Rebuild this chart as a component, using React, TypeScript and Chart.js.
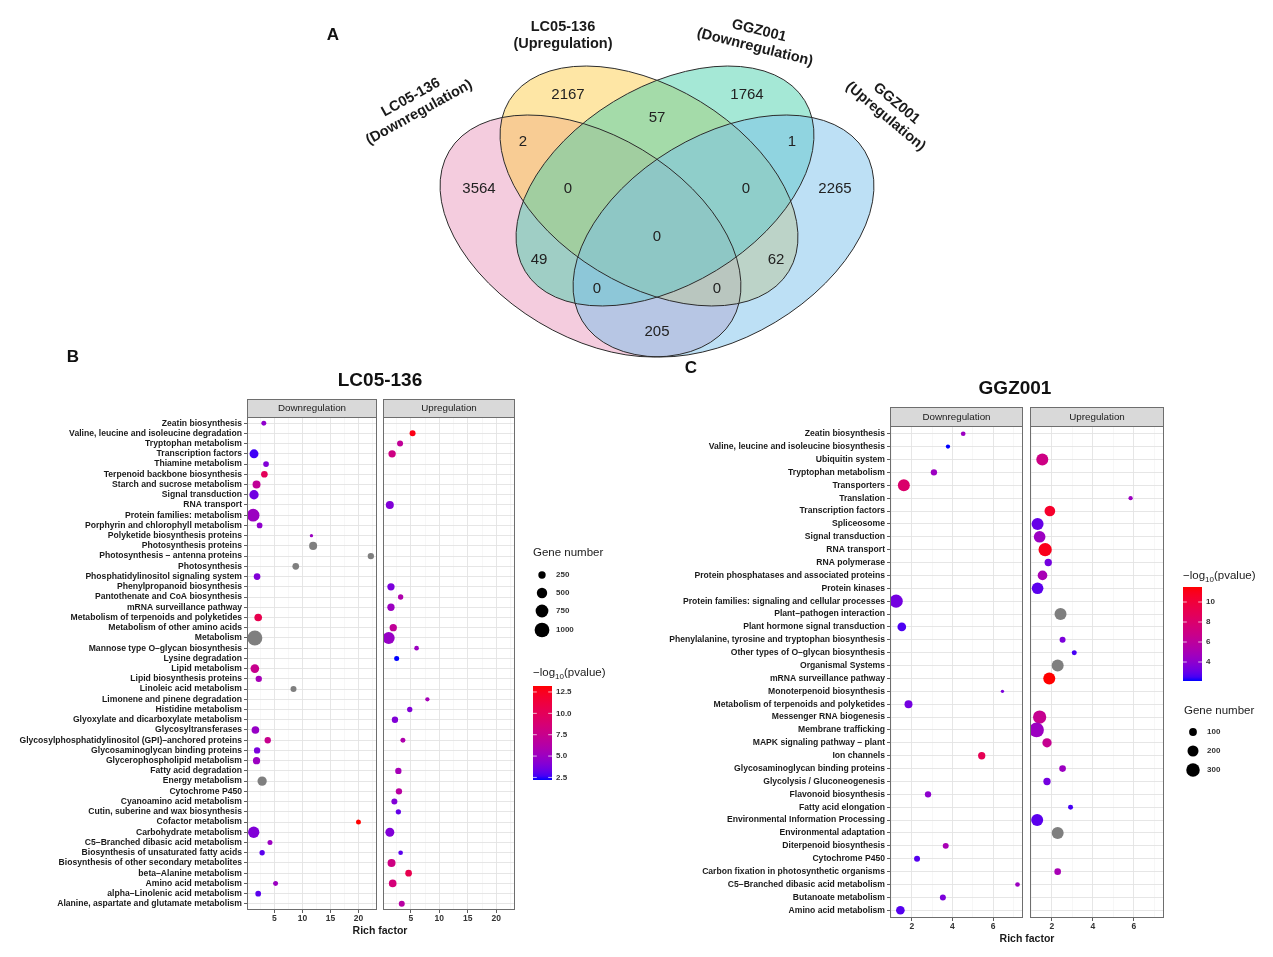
import React, { useEffect, useRef } from 'react';
import { Chart, registerables } from 'chart.js';
Chart.register(...registerables);

const FONT = '"Liberation Sans", Arial, Helvetica, sans-serif';

// ---------------- Panel A (Venn) data ----------------
const VENN_SET_NAMES = [
  ['LC05-136', '(Downregulation)'],
  ['LC05-136', '(Upregulation)'],
  ['GGZ001', '(Downregulation)'],
  ['GGZ001', '(Upregulation)'],
];
const VENN_COUNTS = [3564, 2167, 1764, 2265, 2, 57, 1, 0, 0, 0, 49, 62, 0, 0, 205];

// ---------------- Panel B (LC05-136) data ----------------
const B_CATEGORIES = [
  'Zeatin biosynthesis', 'Valine, leucine and isoleucine degradation', 'Tryptophan metabolism', 'Transcription factors',
  'Thiamine metabolism', 'Terpenoid backbone biosynthesis', 'Starch and sucrose metabolism', 'Signal transduction',
  'RNA transport', 'Protein families: metabolism', 'Porphyrin and chlorophyll metabolism', 'Polyketide biosynthesis proteins',
  'Photosynthesis proteins', 'Photosynthesis – antenna proteins', 'Photosynthesis', 'Phosphatidylinositol signaling system',
  'Phenylpropanoid biosynthesis', 'Pantothenate and CoA biosynthesis', 'mRNA surveillance pathway', 'Metabolism of terpenoids and polyketides',
  'Metabolism of other amino acids', 'Metabolism', 'Mannose type O–glycan biosynthesis', 'Lysine degradation',
  'Lipid metabolism', 'Lipid biosynthesis proteins', 'Linoleic acid metabolism', 'Limonene and pinene degradation',
  'Histidine metabolism', 'Glyoxylate and dicarboxylate metabolism', 'Glycosyltransferases', 'Glycosylphosphatidylinositol (GPI)–anchored proteins',
  'Glycosaminoglycan binding proteins', 'Glycerophospholipid metabolism', 'Fatty acid degradation', 'Energy metabolism',
  'Cytochrome P450', 'Cyanoamino acid metabolism', 'Cutin, suberine and wax biosynthesis', 'Cofactor metabolism',
  'Carbohydrate metabolism', 'C5–Branched dibasic acid metabolism', 'Biosynthesis of unsaturated fatty acids', 'Biosynthesis of other secondary metabolites',
  'beta–Alanine metabolism', 'Amino acid metabolism', 'alpha–Linolenic acid metabolism', 'Alanine, aspartate and glutamate metabolism',
];
const B_DOWN_RICH = [
  3.1, null, null, 1.35, 3.5, 3.2, 1.8, 1.35,
  null, 1.2, 2.35, 11.6, 11.9, 22.2, 8.8, 1.9,
  null, null, null, 2.1, null, 1.5, null, null,
  1.5, 2.2, 8.4, null, null, null, 1.6, 3.8,
  1.9, 1.8, null, 2.8, null, null, null, 20.0,
  1.3, 4.2, 2.8, null, null, 5.2, 2.1, null,
];
const B_DOWN_GENES = [
  115, null, null, 370, 150, 205, 295, 400,
  null, 740, 150, 50, 295, 185, 205, 205,
  null, null, null, 270, null, 1035, null, null,
  345, 185, 165, null, null, null, 270, 185,
  185, 245, null, 400, null, null, null, 115,
  590, 115, 130, null, null, 115, 150, null,
];
const B_DOWN_LOGP = [
  4.5, null, null, 2.6, 4.0, 10.0, 7.0, 3.5,
  null, 5.0, 4.5, 5.0, null, null, null, 4.0,
  null, null, null, 10.5, null, null, null, null,
  7.5, 5.5, null, null, null, null, 4.8, 7.5,
  3.8, 5.0, null, null, null, null, null, 13.2,
  4.0, 5.0, 3.0, null, null, 5.0, 3.0, null,
];
const B_UP_RICH = [
  null, 5.3, 3.1, 1.7, null, null, null, null,
  1.3, null, null, null, null, null, null, null,
  1.5, 3.2, 1.5, null, 1.9, 1.1, 6.0, 2.5,
  null, null, null, 7.9, 4.8, 2.2, null, 3.6,
  null, null, 2.8, null, 2.9, 2.1, 2.8, null,
  1.3, null, 3.2, 1.6, 4.6, 1.8, null, 3.4,
];
const B_UP_GENES = [
  null, 165, 165, 250, null, null, null, null,
  295, null, null, null, null, null, null, null,
  245, 130, 245, null, 245, 660, 100, 115,
  null, null, null, 85, 130, 185, null, 115,
  null, null, 185, null, 185, 165, 130, null,
  370, null, 100, 295, 205, 270, null, 165,
];
const B_UP_LOGP = [
  null, 12.8, 7.0, 8.0, null, null, null, null,
  4.0, null, null, null, null, null, null, null,
  3.8, 6.0, 5.0, null, 7.0, 4.8, 5.0, 2.2,
  null, null, null, 5.5, 4.0, 4.0, null, 6.0,
  null, null, 5.5, null, 6.5, 4.0, 3.2, null,
  4.0, null, 3.0, 8.0, 10.5, 8.5, null, 6.5,
];
const B_X_TICKS = [5, 10, 15, 20];
const B_SIZE_BREAKS = [250, 500, 750, 1000];
const B_COLOR_BREAKS = [2.5, 5.0, 7.5, 10.0, 12.5];

// ---------------- Panel C (GGZ001) data ----------------
const C_CATEGORIES = [
  'Zeatin biosynthesis', 'Valine, leucine and isoleucine biosynthesis', 'Ubiquitin system', 'Tryptophan metabolism',
  'Transporters', 'Translation', 'Transcription factors', 'Spliceosome',
  'Signal transduction', 'RNA transport', 'RNA polymerase', 'Protein phosphatases and associated proteins',
  'Protein kinases', 'Protein families: signaling and cellular processes', 'Plant–pathogen interaction', 'Plant hormone signal transduction',
  'Phenylalanine, tyrosine and tryptophan biosynthesis', 'Other types of O–glycan biosynthesis', 'Organismal Systems', 'mRNA surveillance pathway',
  'Monoterpenoid biosynthesis', 'Metabolism of terpenoids and polyketides', 'Messenger RNA biogenesis', 'Membrane trafficking',
  'MAPK signaling pathway – plant', 'Ion channels', 'Glycosaminoglycan binding proteins', 'Glycolysis / Gluconeogenesis',
  'Flavonoid biosynthesis', 'Fatty acid elongation', 'Environmental Information Processing', 'Environmental adaptation',
  'Diterpenoid biosynthesis', 'Cytochrome P450', 'Carbon fixation in photosynthetic organisms', 'C5–Branched dibasic acid metabolism',
  'Butanoate metabolism', 'Amino acid metabolism',
];
const C_DOWN_RICH = [
  4.53, 3.78, null, 3.09, 1.61, null, null, null,
  null, null, null, null, null, 1.23, null, 1.51,
  null, null, null, null, 6.46, 1.84, null, null,
  null, 5.44, null, null, 2.8, null, null, null,
  3.67, 2.26, null, 7.2, 3.53, 1.44,
];
const C_DOWN_GENES = [
  36, 30, null, 66, 237, null, null, null,
  null, null, null, null, null, 292, null, 124,
  null, null, null, null, 18, 105, null, null,
  null, 88, null, null, 66, null, null, null,
  59, 59, null, 36, 59, 124,
];
const C_DOWN_LOGP = [
  4.5, 2.1, null, 4.5, 8.0, null, null, null,
  null, null, null, null, null, 3.3, null, 2.6,
  null, null, null, null, 3.5, 3.3, null, null,
  null, 9.0, null, null, 4.0, null, null, null,
  5.0, 2.7, null, 4.5, 3.5, 2.7,
];
const C_UP_RICH = [
  null, null, 1.53, null, null, 5.84, 1.9, 1.3,
  1.4, 1.67, 1.82, 1.54, 1.3, null, 2.42, null,
  2.52, 3.09, 2.28, 1.87, null, null, 1.4, 1.25,
  1.76, null, 2.52, 1.76, null, 2.91, 1.28, 2.28,
  null, null, 2.28, null, null, null,
];
const C_UP_GENES = [
  null, null, 237, null, null, 30, 188, 237,
  224, 292, 88, 154, 224, null, 237, null,
  59, 41, 237, 237, null, null, 292, 355,
  142, null, 73, 88, null, 41, 237, 237,
  null, null, 73, null, null, null,
];
const C_UP_LOGP = [
  null, null, 7.0, null, null, 4.5, 10.5, 3.0,
  4.5, 11.0, 3.3, 5.0, 2.8, null, null, null,
  3.5, 2.5, null, 11.5, null, null, 6.5, 4.5,
  6.5, null, 4.5, 3.3, null, 2.5, 2.8, null,
  null, null, 5.0, null, null, null,
];
const C_X_TICKS = [2, 4, 6];
const C_SIZE_BREAKS = [100, 200, 300];
const C_COLOR_BREAKS = [4, 6, 8, 10];

// ---------------- Layout / style (not data) ----------------
const VENN_SHAPES = [
  { cx: 590.5, cy: 236, a: 164.8, b: 100.6, rot: 31, fill: '#E999BD' },
  { cx: 649, cy: 186, a: 163.8, b: 98.8, rot: 31.4, fill: '#FDCD4B' },
  { cx: 665, cy: 186, a: 163.8, b: 98.8, rot: -31.4, fill: '#4BD1AD' },
  { cx: 723.5, cy: 236, a: 164.8, b: 100.6, rot: -31, fill: '#7BC1EB' },
];
const VENN_COUNT_POS = [
  [479, 189], [568, 95], [747, 95], [835, 189], [523, 142], [657, 118], [792, 142],
  [568, 189], [746, 189], [657, 237], [539, 260], [776, 260], [597, 289], [717, 289], [657, 332],
];
const VENN_SET_POS = [
  { x: 415, y: 105, rot: -29 },
  { x: 563, y: 35, rot: 0 },
  { x: 757, y: 39, rot: 14 },
  { x: 891, y: 110, rot: 40 },
];

// ---------------- colour helpers (ggplot Lab gradient blue -> red) ----------------
function toLin(c: number) { c /= 255; return c <= 0.04045 ? c / 12.92 : Math.pow((c + 0.055) / 1.055, 2.4); }
function fromLin(c: number) {
  const v = c <= 0.0031308 ? 12.92 * c : 1.055 * Math.pow(Math.max(c, 0), 1 / 2.4) - 0.055;
  return Math.round(Math.max(0, Math.min(1, v)) * 255);
}
function rgb2lab(rgb: number[]) {
  const R = toLin(rgb[0]), G = toLin(rgb[1]), B = toLin(rgb[2]);
  const X = (0.4124 * R + 0.3576 * G + 0.1805 * B) / 0.95047;
  const Y = 0.2126 * R + 0.7152 * G + 0.0722 * B;
  const Z = (0.0193 * R + 0.1192 * G + 0.9505 * B) / 1.08883;
  const f = (t: number) => (t > 0.008856 ? Math.cbrt(t) : 7.787 * t + 16 / 116);
  const fx = f(X), fy = f(Y), fz = f(Z);
  return [116 * fy - 16, 500 * (fx - fy), 200 * (fy - fz)];
}
function lab2rgb(lab: number[]) {
  const fy = (lab[0] + 16) / 116, fx = fy + lab[1] / 500, fz = fy - lab[2] / 200;
  const inv = (t: number) => (t * t * t > 0.008856 ? t * t * t : (t - 16 / 116) / 7.787);
  const X = inv(fx) * 0.95047, Y = inv(fy), Z = inv(fz) * 1.08883;
  const R = 3.2406 * X - 1.5372 * Y - 0.4986 * Z;
  const G = -0.9689 * X + 1.8758 * Y + 0.0415 * Z;
  const B = 0.0557 * X - 0.204 * Y + 1.057 * Z;
  return [fromLin(R), fromLin(G), fromLin(B)];
}
const LAB_LO = rgb2lab([0, 0, 255]);
const LAB_HI = rgb2lab([255, 0, 0]);
function gradColor(t: number) {
  t = Math.max(0, Math.min(1, t));
  const c = lab2rgb([0, 1, 2].map((i) => LAB_LO[i] + (LAB_HI[i] - LAB_LO[i]) * t));
  return `rgb(${c[0]},${c[1]},${c[2]})`;
}
const NA_COLOR = '#7F7F7F';

function range(arrs: (number | null)[][]) {
  const v = arrs.flat().filter((x) => x != null) as number[];
  return [Math.min(...v), Math.max(...v)];
}

// ---------------- drawing helpers ----------------
function drawColorbar(ctx: CanvasRenderingContext2D, x: number, y: number, w: number, h: number, lo: number, hi: number, breaks: number[], digits: number) {
  const g = ctx.createLinearGradient(0, y + h, 0, y);
  for (let i = 0; i <= 24; i++) g.addColorStop(i / 24, gradColor(i / 24));
  ctx.fillStyle = g;
  ctx.fillRect(x, y, w, h);
  ctx.strokeStyle = 'rgba(255,255,255,0.9)';
  ctx.lineWidth = 0.8;
  ctx.font = `bold 8px ${FONT}`;
  ctx.fillStyle = '#333';
  ctx.textAlign = 'left';
  ctx.textBaseline = 'middle';
  breaks.forEach((v) => {
    const yy = y + h - ((v - lo) / (hi - lo)) * h;
    ctx.beginPath();
    ctx.moveTo(x, yy); ctx.lineTo(x + w / 5, yy);
    ctx.moveTo(x + w, yy); ctx.lineTo(x + w - w / 5, yy);
    ctx.stroke();
    ctx.fillText(v.toFixed(digits), x + w + 4, yy);
  });
}
function drawLogTitle(ctx: CanvasRenderingContext2D, x: number, y: number) {
  ctx.fillStyle = '#1A1A1A';
  ctx.textAlign = 'left';
  ctx.textBaseline = 'alphabetic';
  ctx.font = `11.5px ${FONT}`;
  let cx = x;
  ctx.fillText('−log', cx, y + 4); cx += ctx.measureText('−log').width;
  ctx.font = `8px ${FONT}`;
  ctx.fillText('10', cx, y + 7); cx += ctx.measureText('10').width;
  ctx.font = `11.5px ${FONT}`;
  ctx.fillText('(pvalue)', cx, y + 4);
}
function drawSizeLegend(ctx: CanvasRenderingContext2D, x: number, titleY: number, ys: number[], breaks: number[], rK: number, labelX: number) {
  ctx.fillStyle = '#1A1A1A';
  ctx.font = `11.5px ${FONT}`;
  ctx.textAlign = 'left';
  ctx.textBaseline = 'middle';
  ctx.fillText('Gene number', x - 9, titleY);
  breaks.forEach((b, i) => {
    ctx.fillStyle = '#000';
    ctx.beginPath();
    ctx.arc(x, ys[i], rK * Math.sqrt(b), 0, Math.PI * 2);
    ctx.fill();
    ctx.fillStyle = '#333';
    ctx.font = `bold 8px ${FONT}`;
    ctx.fillText(String(b), labelX, ys[i]);
  });
}
function txt(ctx: CanvasRenderingContext2D, s: string, x: number, y: number, font: string, color = '#1A1A1A', align: CanvasTextAlign = 'center') {
  ctx.font = font;
  ctx.fillStyle = color;
  ctx.textAlign = align;
  ctx.textBaseline = 'middle';
  ctx.fillText(s, x, y);
}

// ---------------- facet chart ----------------
type Facet = {
  cats: string[]; rich: (number | null)[]; genes: (number | null)[]; logp: (number | null)[];
  lo: number; hi: number; xMin: number; xMax: number; majors: number[];
  showY: boolean; yWidth: number; padding: { left: number; right: number; top: number; bottom: number };
  strip: string; stripH: number; rK: number; ox: number; oy: number;
  decorate?: (ctx: CanvasRenderingContext2D) => void;
};

function makeFacet(canvas: HTMLCanvasElement, f: Facet) {
  const n = f.cats.length;
  const step = f.majors[1] - f.majors[0];
  const allTicks: number[] = [];
  for (let v = f.majors[0] - step / 2; v <= f.xMax; v += step / 2) if (v >= f.xMin) allTicks.push(+v.toFixed(4));
  const isMajor = (v: number) => f.majors.some((m) => Math.abs(m - v) < 1e-6);
  const pts: any[] = [];
  const cols: string[] = [];
  f.cats.forEach((_, i) => {
    const x = f.rich[i];
    if (x == null) return;
    pts.push({ x, y: i, r: f.rK * Math.sqrt(f.genes[i] as number) });
    const lp = f.logp[i];
    cols.push(lp == null ? NA_COLOR : gradColor((lp - f.lo) / (f.hi - f.lo)));
  });
  const plugin = {
    id: 'facetDecor',
    afterDraw(chart: any) {
      const { ctx, chartArea: a } = chart;
      ctx.save();
      ctx.strokeStyle = '#6E6E6E';
      ctx.lineWidth = 1;
      ctx.strokeRect(a.left + 0.5, a.top + 0.5, a.right - a.left - 1, a.bottom - a.top - 1);
      ctx.fillStyle = '#D9D9D9';
      ctx.fillRect(a.left, a.top - f.stripH, a.right - a.left, f.stripH);
      ctx.strokeRect(a.left + 0.5, a.top - f.stripH + 0.5, a.right - a.left - 1, f.stripH);
      txt(ctx, f.strip, (a.left + a.right) / 2, a.top - f.stripH / 2 + 0.5, `9.8px ${FONT}`, '#1A1A1A');
      ctx.translate(-f.ox, -f.oy);
      if (f.decorate) f.decorate(ctx);
      ctx.restore();
    },
  };
  return new Chart(canvas, {
    type: 'bubble',
    data: { datasets: [{ data: pts, backgroundColor: cols, borderWidth: 0, hoverBorderWidth: 0 } as any] },
    options: {
      animation: false,
      responsive: false,
      events: [],
      layout: { padding: f.padding },
      plugins: { legend: { display: false }, tooltip: { enabled: false } },
      scales: {
        x: {
          type: 'linear', position: 'bottom', min: f.xMin, max: f.xMax,
          afterBuildTicks: (s: any) => { s.ticks = allTicks.map((v) => ({ value: v })); },
          afterFit: (s: any) => { s.height = 30; },
          ticks: {
            autoSkip: false, maxRotation: 0, padding: 1, color: '#333',
            font: { family: FONT, size: 8.5, weight: 'bold' },
            callback: (v: any) => (isMajor(v) ? String(v) : ''),
          },
          grid: {
            color: (c: any) => (isMajor(c.tick?.value) ? '#E3E3E3' : '#F2F2F2'),
            lineWidth: (c: any) => (isMajor(c.tick?.value) ? 0.9 : 0.6),
            drawTicks: true, tickLength: 3,
            tickColor: (c: any) => (isMajor(c.tick?.value) ? '#333' : 'rgba(0,0,0,0)'),
            tickWidth: 0.8,
          },
          border: { display: false },
        },
        y: {
          type: 'linear', reverse: true, min: -0.6, max: n - 0.4,
          afterBuildTicks: (s: any) => { s.ticks = f.cats.map((_, i) => ({ value: i })); },
          afterFit: (s: any) => { s.width = f.yWidth; },
          ticks: {
            display: f.showY, autoSkip: false, padding: 2, color: '#1A1A1A',
            font: { family: FONT, size: 8.6, weight: 'bold' },
            callback: (v: any) => f.cats[v] ?? '',
          },
          grid: { color: '#E3E3E3', lineWidth: 0.9, drawTicks: f.showY, tickLength: 3, tickColor: '#333', tickWidth: 0.8 },
          border: { display: false },
        },
      },
    } as any,
    plugins: [plugin],
  });
}

// ---------------- Venn chart ----------------
function makeVenn(canvas: HTMLCanvasElement) {
  const plugin = {
    id: 'vennDraw',
    afterDraw(chart: any) {
      const { ctx } = chart;
      const xs = chart.scales.x, ys = chart.scales.y;
      const px = (v: number) => xs.getPixelForValue(v);
      const py = (v: number) => ys.getPixelForValue(v);
      const sx = Math.abs(px(1) - px(0)), sy = Math.abs(py(1) - py(0));
      ctx.save();
      VENN_SHAPES.forEach((e) => {
        ctx.beginPath();
        ctx.ellipse(px(e.cx), py(e.cy), e.a * sx, e.b * sy, (e.rot * Math.PI) / 180, 0, Math.PI * 2);
        ctx.globalAlpha = 0.5;
        ctx.fillStyle = e.fill;
        ctx.fill();
      });
      ctx.globalAlpha = 1;
      ctx.strokeStyle = '#2B2B2B';
      ctx.lineWidth = 1;
      VENN_SHAPES.forEach((e) => {
        ctx.beginPath();
        ctx.ellipse(px(e.cx), py(e.cy), e.a * sx, e.b * sy, (e.rot * Math.PI) / 180, 0, Math.PI * 2);
        ctx.stroke();
      });
      VENN_COUNTS.forEach((c, i) => {
        const p = VENN_COUNT_POS[i];
        txt(ctx, String(c), px(p[0]), py(p[1]), `15px ${FONT}`, '#222');
      });
      VENN_SET_NAMES.forEach((lines, i) => {
        const p = VENN_SET_POS[i];
        ctx.save();
        ctx.translate(px(p.x), py(p.y));
        ctx.rotate((p.rot * Math.PI) / 180);
        txt(ctx, lines[0], 0, -8.5, `bold 14.5px ${FONT}`, '#1A1A1A');
        txt(ctx, lines[1], 0, 8.5, `bold 14.5px ${FONT}`, '#1A1A1A');
        ctx.restore();
      });
      txt(ctx, 'A', px(333), py(35), `bold 17px ${FONT}`, '#111');
      ctx.restore();
    },
  };
  return new Chart(canvas, {
    type: 'scatter',
    data: { datasets: [] },
    options: {
      animation: false, responsive: false, events: [],
      layout: { padding: 0 },
      plugins: { legend: { display: false }, tooltip: { enabled: false } },
      scales: {
        x: { type: 'linear', min: 300, max: 960, display: false },
        y: { type: 'linear', min: 0, max: 372, reverse: true, display: false },
      },
    } as any,
    plugins: [plugin],
  });
}

const B_RK = 0.233;
const C_RK = 0.39;

export default function App() {
  const vennRef = useRef<HTMLCanvasElement>(null);
  const bdRef = useRef<HTMLCanvasElement>(null);
  const buRef = useRef<HTMLCanvasElement>(null);
  const cdRef = useRef<HTMLCanvasElement>(null);
  const cuRef = useRef<HTMLCanvasElement>(null);

  useEffect(() => {
    const [bLo, bHi] = range([B_DOWN_LOGP, B_UP_LOGP]);
    const [cLo, cHi] = range([C_DOWN_LOGP, C_UP_LOGP]);
    const charts: Chart[] = [];
    charts.push(makeVenn(vennRef.current!));
    charts.push(makeFacet(bdRef.current!, {
      cats: B_CATEGORIES, rich: B_DOWN_RICH, genes: B_DOWN_GENES, logp: B_DOWN_LOGP,
      lo: bLo, hi: bHi, xMin: 0.1, xMax: 23.3, majors: B_X_TICKS,
      showY: true, yWidth: 247, padding: { left: 0, right: 8, top: 77, bottom: 10 },
      strip: 'Downregulation', stripH: 18, rK: B_RK, ox: 0, oy: 340,
      decorate: (ctx) => { txt(ctx, 'B', 73, 357, `bold 17px ${FONT}`, '#111'); },
    }));
    charts.push(makeFacet(buRef.current!, {
      cats: B_CATEGORIES, rich: B_UP_RICH, genes: B_UP_GENES, logp: B_UP_LOGP,
      lo: bLo, hi: bHi, xMin: 0.1, xMax: 23.3, majors: B_X_TICKS,
      showY: false, yWidth: 83, padding: { left: 0, right: 105, top: 77, bottom: 10 },
      strip: 'Upregulation', stripH: 18, rK: B_RK, ox: 300, oy: 340,
      decorate: (ctx) => {
        txt(ctx, 'LC05-136', 380, 381, `bold 19px ${FONT}`, '#111');
        txt(ctx, 'Rich factor', 380, 931, `bold 10.5px ${FONT}`, '#1A1A1A');
        drawSizeLegend(ctx, 542, 553, [575, 593, 611, 630], B_SIZE_BREAKS, B_RK, 556);
        drawLogTitle(ctx, 533, 672);
        drawColorbar(ctx, 533, 686, 19, 94, bLo, bHi, B_COLOR_BREAKS, 1);
      },
    }));
    charts.push(makeFacet(cdRef.current!, {
      cats: C_CATEGORIES, rich: C_DOWN_RICH, genes: C_DOWN_GENES, logp: C_DOWN_LOGP,
      lo: cLo, hi: cHi, xMin: 0.93, xMax: 7.47, majors: C_X_TICKS,
      showY: true, yWidth: 250, padding: { left: 0, right: 7, top: 71, bottom: 7 },
      strip: 'Downregulation', stripH: 19, rK: C_RK, ox: 640, oy: 355,
      decorate: (ctx) => { txt(ctx, 'C', 691, 368, `bold 17px ${FONT}`, '#111'); },
    }));
    charts.push(makeFacet(cuRef.current!, {
      cats: C_CATEGORIES, rich: C_UP_RICH, genes: C_UP_GENES, logp: C_UP_LOGP,
      lo: cLo, hi: cHi, xMin: 0.93, xMax: 7.47, majors: C_X_TICKS,
      showY: false, yWidth: 80, padding: { left: 0, right: 109, top: 71, bottom: 7 },
      strip: 'Upregulation', stripH: 19, rK: C_RK, ox: 950, oy: 355,
      decorate: (ctx) => {
        txt(ctx, 'GGZ001', 1015, 389, `bold 19px ${FONT}`, '#111');
        txt(ctx, 'Rich factor', 1027, 939, `bold 10.5px ${FONT}`, '#1A1A1A');
        drawLogTitle(ctx, 1183, 575);
        drawColorbar(ctx, 1183, 587, 19, 94, cLo, cHi, C_COLOR_BREAKS, 0);
        drawSizeLegend(ctx, 1193, 711, [732, 751, 770], C_SIZE_BREAKS, C_RK, 1207);
      },
    }));
    return () => charts.forEach((c) => c.destroy());
  }, []);

  const cv = (left: number, top: number, w: number, h: number) => ({ position: 'absolute' as const, left, top, width: w, height: h });
  return (
    <div style={{ position: 'absolute', left: 0, top: 0, width: 1273, height: 957, background: '#fff', overflow: 'hidden' }}>
      <canvas ref={vennRef} width={660} height={372} style={cv(300, 0, 660, 372)} />
      <canvas ref={bdRef} width={385} height={610} style={cv(0, 340, 385, 610)} />
      <canvas ref={buRef} width={320} height={610} style={cv(300, 340, 320, 610)} />
      <canvas ref={cdRef} width={390} height={600} style={cv(640, 355, 390, 600)} />
      <canvas ref={cuRef} width={323} height={600} style={cv(950, 355, 323, 600)} />
    </div>
  );
}
